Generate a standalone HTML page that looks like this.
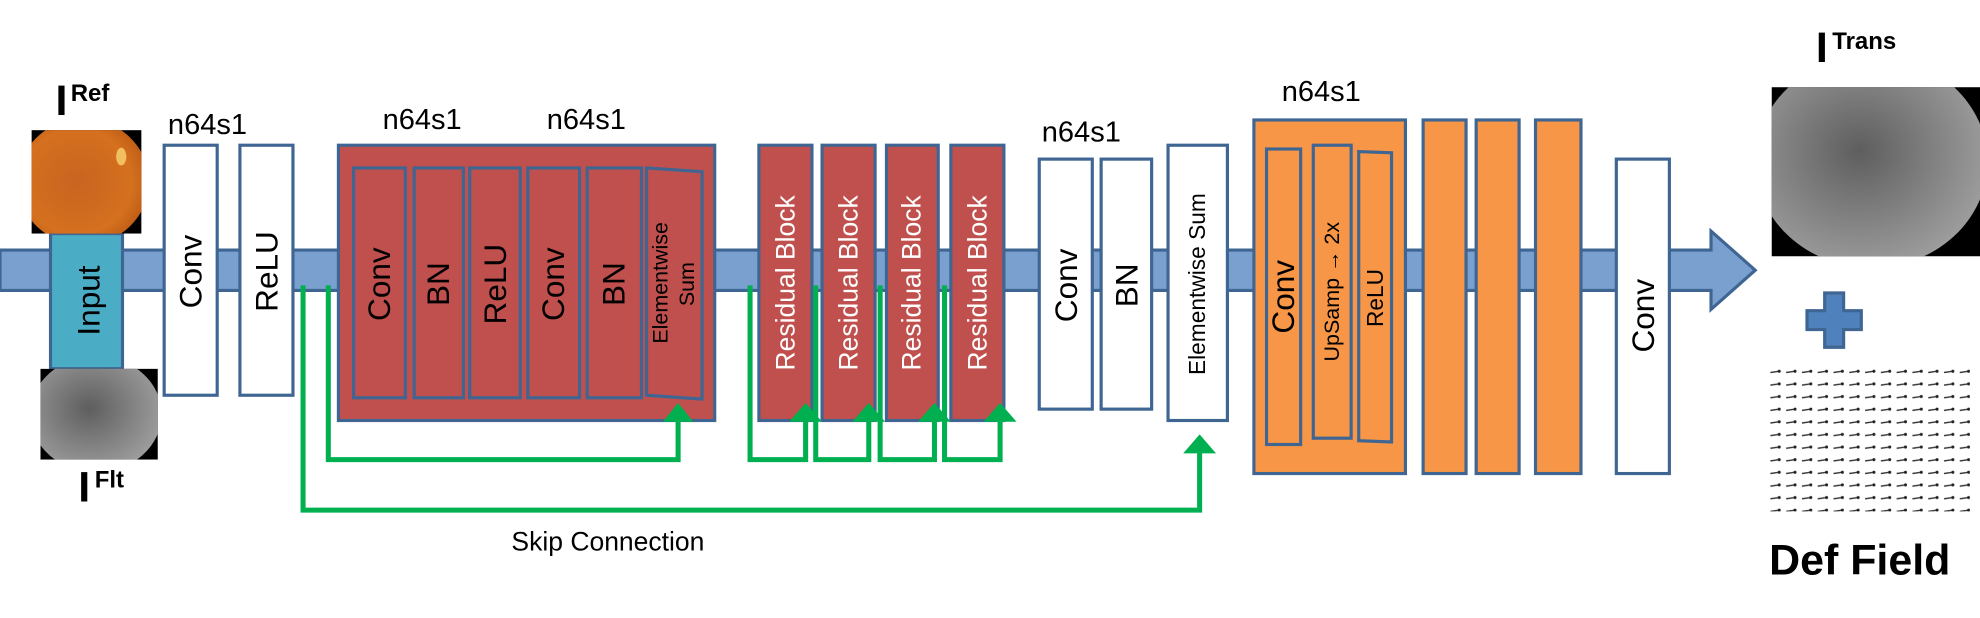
<!DOCTYPE html>
<html><head><meta charset="utf-8"><style>
html,body{margin:0;padding:0;background:#fff;width:1980px;height:618px;overflow:hidden}
svg{display:block}
text{font-family:"Liberation Sans",sans-serif}
</style></head><body>
<svg width="1980" height="618" viewBox="0 0 1568 489.4" preserveAspectRatio="none" xmlns="http://www.w3.org/2000/svg">
<defs>
<radialGradient id="org" cx="0.45" cy="0.5" r="0.7"><stop offset="0" stop-color="#c86420"/><stop offset="0.6" stop-color="#d4701e"/><stop offset="1" stop-color="#a8480c"/></radialGradient>
<radialGradient id="gry" cx="0.45" cy="0.45" r="0.6"><stop offset="0" stop-color="#5e5e5e"/><stop offset="0.7" stop-color="#8c8c8c"/><stop offset="1" stop-color="#a0a0a0"/></radialGradient>
<pattern id="vec" width="12.5" height="10" patternUnits="userSpaceOnUse"><line x1="2" y1="5" x2="9" y2="4" stroke="#333" stroke-width="1.1"/><circle cx="9" cy="4" r="1.2" fill="#222"/></pattern>
<clipPath id="c1"><rect x="25" y="103" width="87" height="82"/></clipPath>
<clipPath id="c2"><rect x="32" y="292" width="93" height="72"/></clipPath>
<clipPath id="c3"><rect x="1403" y="69" width="165" height="134"/></clipPath>
</defs>
<g stroke="#3f6592" stroke-width="2.5">
<polygon points="0,198 1355,198 1355,183 1390,214 1355,245 1355,230 0,230" fill="#7aa0cf"/>
<rect x="40" y="185" width="57" height="107" fill="#4bacc6"/>
<rect x="130" y="115" width="42" height="198" fill="#fff"/>
<rect x="190" y="115" width="42" height="198" fill="#fff"/>
<rect x="268" y="115" width="298" height="218" fill="#c0504d"/>
<rect x="280" y="133" width="41" height="182" fill="#c0504d"/>
<rect x="328" y="133" width="39" height="182" fill="#c0504d"/>
<rect x="372" y="133" width="40" height="182" fill="#c0504d"/>
<rect x="418" y="133" width="41" height="182" fill="#c0504d"/>
<rect x="465" y="133" width="43" height="182" fill="#c0504d"/>
<polygon points="512,133 556,136 556,316 512,313" fill="#c0504d"/>
<rect x="601" y="115" width="42" height="218" fill="#c0504d"/>
<rect x="651" y="115" width="42" height="218" fill="#c0504d"/>
<rect x="702" y="115" width="41" height="218" fill="#c0504d"/>
<rect x="753" y="115" width="42" height="218" fill="#c0504d"/>
<rect x="823" y="126" width="42" height="198" fill="#fff"/>
<rect x="872" y="126" width="40" height="198" fill="#fff"/>
<rect x="925" y="115" width="47" height="218" fill="#fff"/>
<rect x="993" y="95" width="120" height="280" fill="#f79646"/>
<rect x="1003" y="118" width="27" height="234" fill="#f79646"/>
<rect x="1040" y="115" width="30" height="232" fill="#f79646"/>
<polygon points="1076,120 1102,121 1102,350 1076,349" fill="#f79646"/>
<rect x="1127" y="95" width="34" height="280" fill="#f79646"/>
<rect x="1169" y="95" width="34" height="280" fill="#f79646"/>
<rect x="1216" y="95" width="36" height="280" fill="#f79646"/>
<rect x="1280" y="126" width="42" height="249" fill="#fff"/>
<path d="M1445,232 h15 v14 h14 v15 h-14 v14 h-15 v-14 h-14 v-15 h14 z" fill="#4f81bd"/>
</g>
<g clip-path="url(#c1)"><rect x="25" y="103" width="87" height="82" fill="#000"/><ellipse cx="66" cy="144" rx="52" ry="50" fill="url(#org)"/><ellipse cx="96" cy="124" rx="4" ry="7" fill="#f0c060"/></g>
<g clip-path="url(#c2)"><rect x="32" y="292" width="93" height="72" fill="#000"/><ellipse cx="76" cy="328" rx="52" ry="46" fill="url(#gry)"/></g>
<g clip-path="url(#c3)"><rect x="1403" y="69" width="165" height="134" fill="#000"/><ellipse cx="1482" cy="128" rx="92" ry="84" fill="url(#gry)"/></g>
<rect x="1398" y="283" width="164" height="124" fill="#fff"/>
<rect x="1400" y="287" width="160" height="118" fill="url(#vec)"/>
<g stroke="#00b050" stroke-width="4" fill="none">
<polyline points="240,226 240,404 950,404 950,356"/>
<polyline points="260,226 260,364 537,364 537,330"/>
<polyline points="594,226 594,364 638,364 638,330"/>
<polyline points="646,226 646,364 688,364 688,330"/>
<polyline points="697,226 697,364 740,364 740,330"/>
<polyline points="748,226 748,364 792,364 792,330"/>
</g>
<g fill="#00b050">
<polygon points="937,359 963,359 950,344"/>
<polygon points="525,334 549,334 537,319"/>
<polygon points="625,334 651,334 638,319"/>
<polygon points="675,334 701,334 688,319"/>
<polygon points="727,334 753,334 740,319"/>
<polygon points="779,334 805,334 792,319"/>
</g>
<g font-size="23" fill="#000">
<text x="133" y="106">n64s1</text>
<text x="303" y="102">n64s1</text>
<text x="433" y="102">n64s1</text>
<text x="825" y="112">n64s1</text>
<text x="1015" y="80">n64s1</text>
<text x="405" y="436" font-size="21">Skip Connection</text>
</g>
<g font-weight="bold" fill="#000">
<text x="44" y="91" font-size="34">I</text><text x="56" y="80" font-size="19">Ref</text>
<text x="62" y="397" font-size="34">I</text><text x="75" y="386" font-size="19">Flt</text>
<text x="1438" y="49" font-size="34">I</text><text x="1451" y="39" font-size="19">Trans</text>
<text x="1401" y="455" font-size="34">Def Field</text>
</g>
<g font-size="25" text-anchor="middle" dominant-baseline="central" fill="#000">
<text transform="translate(70,238) rotate(-90)">Input</text>
<text transform="translate(151,215) rotate(-90)">Conv</text>
<text transform="translate(211,215) rotate(-90)">ReLU</text>
<text transform="translate(300,225) rotate(-90)">Conv</text>
<text transform="translate(347,225) rotate(-90)">BN</text>
<text transform="translate(392,225) rotate(-90)">ReLU</text>
<text transform="translate(438,225) rotate(-90)">Conv</text>
<text transform="translate(486,225) rotate(-90)">BN</text>
<text transform="translate(523,224) rotate(-90)" font-size="17">Elementwise</text>
<text transform="translate(544,225) rotate(-90)" font-size="17">Sum</text>
<text transform="translate(844,226) rotate(-90)">Conv</text>
<text transform="translate(892,226) rotate(-90)">BN</text>
<text transform="translate(948,225) rotate(-90)" font-size="18">Elementwise Sum</text>
<text transform="translate(1016,235) rotate(-90)">Conv</text>
<text transform="translate(1055,231) rotate(-90)" font-size="17">UpSamp → 2x</text>
<text transform="translate(1089,236) rotate(-90)" font-size="18">ReLU</text>
<text transform="translate(1301,250) rotate(-90)">Conv</text>
</g>
<g font-size="21" text-anchor="middle" dominant-baseline="central" fill="#fff">
<text transform="translate(622,224) rotate(-90)">Residual Block</text>
<text transform="translate(672,224) rotate(-90)">Residual Block</text>
<text transform="translate(722,224) rotate(-90)">Residual Block</text>
<text transform="translate(774,224) rotate(-90)">Residual Block</text>
</g>
</svg>
</body></html>
